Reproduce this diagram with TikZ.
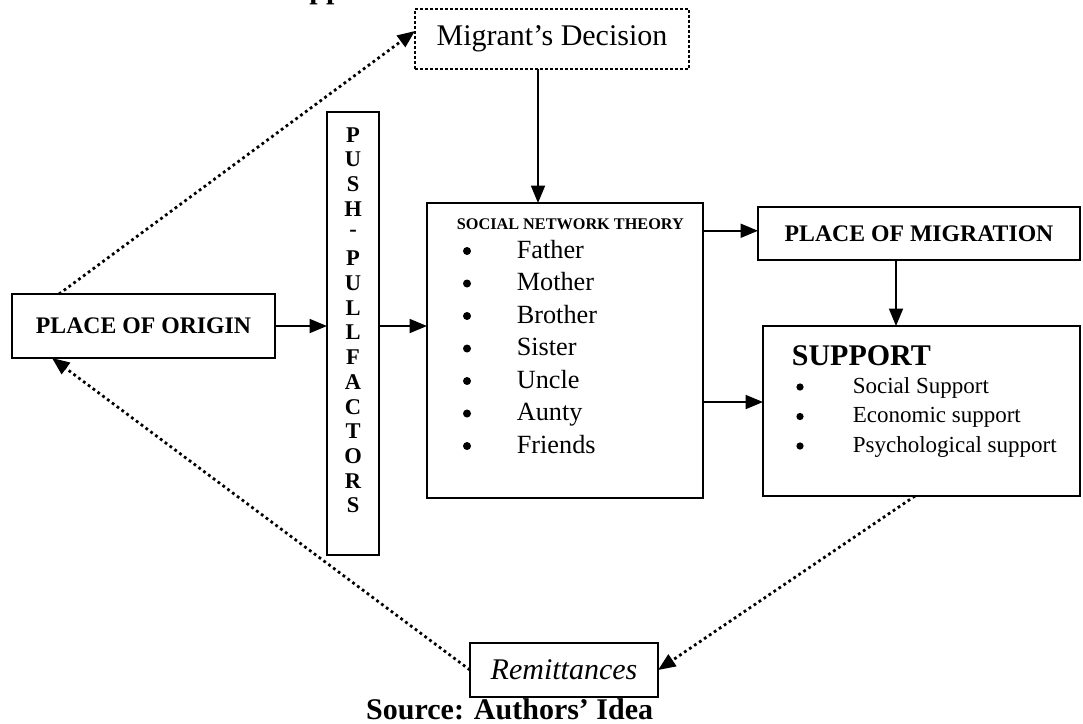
\documentclass[tikz,border=0pt]{standalone}
\usepackage{fontspec}
\setmainfont{Liberation Serif}
\usetikzlibrary{arrows.meta}

\begin{document}
\begin{tikzpicture}[x=0.4pt,y=-0.4pt,
	box/.style={draw,line width=0.8pt,inner sep=0pt,outer sep=0pt},
	dotbox/.style={draw,line width=1.1pt,dash pattern=on 1.1pt off 0.9pt,inner sep=0pt,outer sep=0pt},
	arr/.style={line width=0.8pt,-{Triangle[length=7pt,width=5.6pt]}},
	dotarr/.style={line width=1.1pt,dash pattern=on 1.1pt off 1.3pt,-{Triangle[length=7pt,width=5.6pt]}},
	dot/.style={circle,fill,inner sep=0pt,minimum size=3.2pt},
	capbold/.style={font=\fontsize{9.5}{11}\selectfont\bfseries}]
\useasboundingbox (0,0) rectangle (1083,723);

\node[anchor=base,font=\fontsize{12}{14}\selectfont\bfseries] (cut) at (326,-1.5) {pp};

\node[dotbox,minimum width=109.6pt,minimum height=24pt,font=\fontsize{12}{14}\selectfont] (migrant) at (552,39) {Migrant’s Decision};
\node[box,capbold,minimum width=105.2pt,minimum height=25.6pt] (origin) at (143.5,326) {PLACE OF ORIGIN};

\node[box,minimum width=20.8pt,minimum height=177.2pt] (push) at (353,333.5) {};
\foreach \l [count=\i from 0] in {P,U,S,H,-,P,U,L,L,F,A,C,T,O,R,S}{
	\node[font=\fontsize{9}{10}\selectfont\bfseries] (push\i) at (353,135+24.7*\i) {\l};
	}

\node[box,minimum width=110.4pt,minimum height=118pt] (snt) at (565,350.5) {};
\node[anchor=base west,font=\fontsize{6.5}{8}\selectfont\bfseries] (snttitle) at (448,229) {SOCIAL NETWORK THEORY};
\foreach \t [count=\i from 0] in {Father,Mother,Brother,Sister,Uncle,Aunty,Friends}{
	\node[dot] (sntb\i) at (467,251+32.5*\i) {};
	\node[anchor=base west,font=\fontsize{10.5}{12}\selectfont] (snti\i) at (508,258+32.5*\i) {\t};
	}

\node[box,capbold,minimum width=128.8pt,minimum height=21.2pt] (pom) at (919,233.5) {PLACE OF MIGRATION};
\node[box,minimum width=126.8pt,minimum height=68pt] (sup) at (921.5,411) {};
\node[anchor=base west,font=\fontsize{12}{14}\selectfont\bfseries] (suptitle) at (783,365) {SUPPORT};
\foreach \t [count=\i from 0] in {Social Support,Economic support,Psychological support}{
	\node[dot,minimum size=2.9pt] (supb\i) at (800,387+29.5*\i) {};
	\node[anchor=base west,font=\fontsize{9.2}{11}\selectfont] (supi\i) at (844,393+29.5*\i) {\t};
	}

\node[box,minimum width=75.2pt,minimum height=21.6pt,font=\fontsize{12}{14}\selectfont\itshape] (rem) at (564,670) {Remittances};
\node[anchor=base east,font=\fontsize{12}{14}\selectfont\bfseries] (source) at (662,719) {Source: Authors’ Idea};

\draw[arr] (origin.east) -- (origin.east -| push.west);
\draw[arr] (origin.east -| push.east) -- (origin.east -| snt.west);
\draw[arr] ([xshift=-5.6pt]migrant.south) -- ([xshift=-5.6pt]migrant.south |- snt.north);
\draw[arr] ([yshift=1.1pt]snt.east |- pom.west) -- ([yshift=1.1pt]pom.west);
\draw[arr] ([yshift=3.6pt]snt.east |- sup.west) -- ([yshift=3.6pt]sup.west);
\draw[arr] ([xshift=-9.2pt]pom.south) -- ([xshift=-9.2pt]pom.south |- sup.north);

\draw[dotarr] ([xshift=-33.8pt]origin.north) -- ([yshift=3.2pt]migrant.west);
\draw[dotarr] ([xshift=-2.6pt]sup.south) -- (rem.east);
\draw[dotarr] (rem.west) -- ([xshift=-36.6pt]origin.south);
\end{tikzpicture}
\end{document}
